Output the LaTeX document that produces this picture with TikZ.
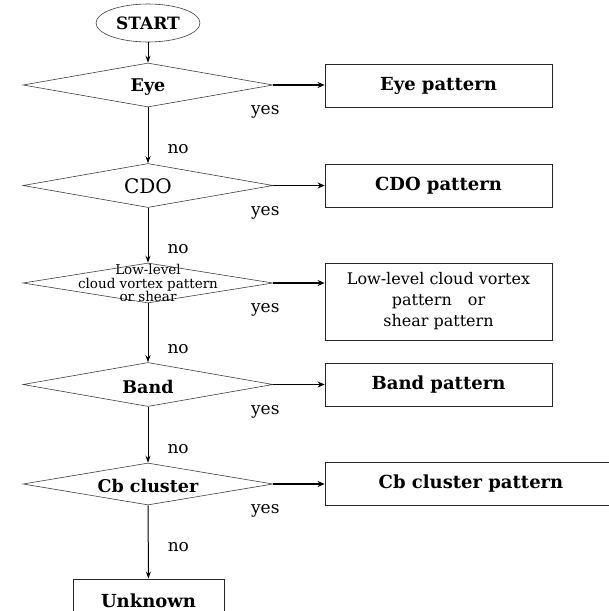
\documentclass[tikz,border=0pt]{standalone}
\usepackage{fontspec}
\setmainfont{DejaVu Serif}
\usetikzlibrary{arrows.meta,positioning,calc,shapes.geometric}

\begin{document}
\begin{tikzpicture}[x=1pt,y=-1pt,
    startnode/.style={ellipse, draw=black!75, line width=0.6pt, minimum width=104pt, minimum height=38pt, inner sep=0pt},
    decision/.style={diamond, draw=black!75, line width=0.6pt, minimum width=250pt, minimum height=44pt, inner sep=0pt},
    dtext/.style={font=\fontsize{17.5pt}{17.5pt}\selectfont\bfseries, yshift=-2pt},
    outbox/.style={draw=black!85, line width=0.8pt, minimum width=227pt, minimum height=43pt, inner sep=0pt, font=\fontsize{18pt}{18pt}\selectfont\bfseries},
    flow/.style={-{Stealth[length=7pt,width=5pt]}, line width=1pt},
    yesflow/.style={-{Stealth[length=7pt,width=6pt]}, line width=1.8pt},
    answer/.style={font=\fontsize{17pt}{17pt}\selectfont, inner sep=0pt}]
    \useasboundingbox (0,0) rectangle (609,611);

    \node[startnode, font=\fontsize{17pt}{17pt}\selectfont\bfseries] (start) at (148,23) {START};

    \node[decision, label={[dtext]center:Eye}] (eye) at (148,85) {};
    \node[decision, label={[font=\fontsize{20pt}{20pt}\selectfont, yshift=-1pt]center:CDO}] (cdo) at (148,185.5) {};
    \node[decision, minimum height=40pt, label={[font=\fontsize{13.5pt}{13.5pt}\selectfont, align=center, inner sep=0pt]center:Low-level\\cloud vortex pattern\\or shear}] (low) at (148,283) {};
    \node[decision, label={[dtext]center:Band}] (band) at (148,384.5) {};
    \node[decision, minimum height=42pt, label={[dtext]center:Cb cluster}] (cb) at (148,484) {};

    \node[outbox] (eyebox) at (438.5,85.5) {Eye pattern};
    \node[outbox] (cdobox) at (438.5,185.5) {CDO pattern};
    \node[outbox, minimum height=77pt, align=center, font=\fontsize{16pt}{21pt}\selectfont] (lowbox) at (438.5,301.5) {Low-level cloud vortex\\pattern\quad or\\shear pattern};
    \node[outbox] (bandbox) at (438.5,384.5) {Band pattern};
    \node[outbox, minimum width=292pt] (cbbox) at (471,483.5) {Cb cluster pattern};
    \node[outbox, minimum width=151pt] (unknown) at (148.5,600.5) {Unknown};

    \draw[flow] (start) -- (eye);
    \draw[flow] (eye) -- node[answer, pos=0.75, anchor=west, xshift=19pt] {no} (cdo);
    \draw[flow] (cdo) -- node[answer, pos=0.75, anchor=west, xshift=19pt] {no} (low);
    \draw[flow] (low) -- node[answer, pos=0.77, anchor=west, xshift=19pt] {no} (band);
    \draw[flow] (band) -- node[answer, pos=0.75, anchor=west, xshift=19pt] {no} (cb);
    \draw[flow] (cb) -- node[answer, pos=0.57, anchor=west, xshift=19pt] {no} (unknown);

    \draw[yesflow] (eye.east) -- (eye.east -| eyebox.west);
    \draw[yesflow] (cdo.east) -- (cdo.east -| cdobox.west);
    \draw[yesflow] (low.east) -- (low.east -| lowbox.west);
    \draw[yesflow] (band.east) -- (band.east -| bandbox.west);
    \draw[yesflow] (cb.east) -- (cb.east -| cbbox.west);

    \node[answer] (eyeyes) at ($(eye.east)+(-8,27)$) {yes};
    \node[answer] (cdoyes) at ($(cdo.east)+(-8,27)$) {yes};
    \node[answer] (lowyes) at ($(low.east)+(-8,27)$) {yes};
    \node[answer] (bandyes) at ($(band.east)+(-8,27)$) {yes};
    \node[answer] (cbyes) at ($(cb.east)+(-8,27)$) {yes};
\end{tikzpicture}
\end{document}
